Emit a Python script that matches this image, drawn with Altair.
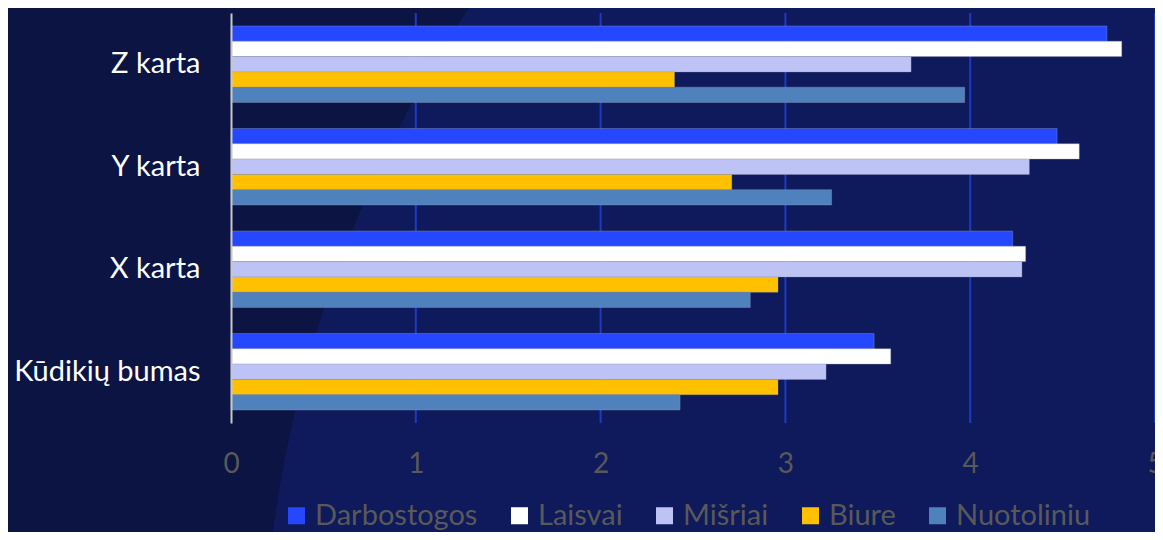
import altair as alt
import pandas as pd

categories = ["Z karta", "Y karta", "X karta", "Kūdikių bumas"]
series = ["Darbostogos", "Laisvai", "Mišriai", "Biure", "Nuotoliniu"]
colors = ["#2447FF", "#FFFFFF", "#BDC3F5", "#FFC000", "#4F81BD"]

darbostogos = [4.74, 4.47, 4.23, 3.48]
laisvai = [4.82, 4.59, 4.30, 3.57]
misriai = [3.68, 4.32, 4.28, 3.22]
biure = [2.40, 2.71, 2.96, 2.96]
nuotoliniu = [3.97, 3.25, 2.81, 2.43]

x_ticks = [0, 1, 2, 3, 4, 5]

values = [darbostogos, laisvai, misriai, biure, nuotoliniu]
rows = []
for s, vals in zip(series, values):
    for c, v in zip(categories, vals):
        rows.append({"category": c, "series": s, "value": v})
df = pd.DataFrame(rows)
grid_df = pd.DataFrame({"value": x_ticks[1:]})

FONT = "Lato"
DARK = "#0b1443"
LIGHT = "#0e1a5b"

W, H = 924, 410
PAD_L, PAD_T, PAD_R, PAD_B = 223, 5, 0, 109
TOTAL_W = PAD_L + W + PAD_R

x_scale = alt.Scale(domain=[0, 5], nice=False)
x_axis = alt.Axis(values=x_ticks, title=None, grid=False, domain=False,
                  ticks=False, tickSize=0, zindex=1,
                  labelPadding=27, labelColor="#595959", labelFontSize=28,
                  labelFont=FONT, labelFlush=False)

# decorative curved background panel (radial gradient with a sharp stop)
CX, CY, R = 1507, 690, 1253
bg_fill = {
    "gradient": "radial",
    "x1": CX / TOTAL_W, "y1": CY / TOTAL_W, "r1": 0,
    "x2": CX / TOTAL_W, "y2": CY / TOTAL_W, "r2": 2 * R / TOTAL_W,
    "stops": [
        {"offset": 0, "color": LIGHT},
        {"offset": 0.5, "color": LIGHT},
        {"offset": 0.5, "color": DARK},
        {"offset": 1, "color": DARK},
    ],
}

background = alt.Chart(pd.DataFrame({"a": [0]})).mark_rect(fill=bg_fill).encode(
    x=alt.value(-PAD_L), x2=alt.value(W + PAD_R),
    y=alt.value(-PAD_T), y2=alt.value(-PAD_T + TOTAL_W),
)

grid = alt.Chart(grid_df).mark_rule(color="#1f3ac0", strokeWidth=2).encode(
    x=alt.X("value:Q", scale=x_scale, axis=x_axis),
)

bars = alt.Chart(df).mark_bar(stroke="#9aa0b8", strokeWidth=0.6, strokeOpacity=0.6).encode(
    x=alt.X("value:Q", scale=x_scale, axis=x_axis),
    y=alt.Y("category:N", sort=categories,
            scale=alt.Scale(paddingInner=0.254, paddingOuter=0.127),
            axis=alt.Axis(title=None, domain=True, domainColor="#c8c8c8", domainWidth=2,
                          ticks=False, tickSize=0, labelPadding=31, labelColor="#FFFFFF",
                          labelFontSize=29, labelFont=FONT, grid=False, labelLimit=0,
                          zindex=1)),
    yOffset=alt.YOffset("series:N", sort=series, scale=alt.Scale(paddingInner=0, paddingOuter=0)),
    color=alt.Color("series:N", sort=series,
                    scale=alt.Scale(domain=series, range=colors),
                    legend=alt.Legend(title=None, orient="none", direction="horizontal",
                                      legendX=51, legendY=488, symbolType="square",
                                      symbolSize=289, symbolStrokeWidth=0,
                                      labelFontSize=29, labelFont=FONT, labelColor="#595959",
                                      labelOffset=4, columnPadding=27, padding=0,
                                      labelLimit=0, columns=5)),
)

chart = alt.layer(background, grid, bars).properties(
    width=W, height=H,
    autosize=alt.AutoSizeParams(type="none"),
    padding={"left": PAD_L, "top": PAD_T, "right": PAD_R, "bottom": PAD_B},
    background=DARK,
).configure_view(stroke=None)

chart.save("out.html", embed_options={"renderer": "svg", "actions": False})
